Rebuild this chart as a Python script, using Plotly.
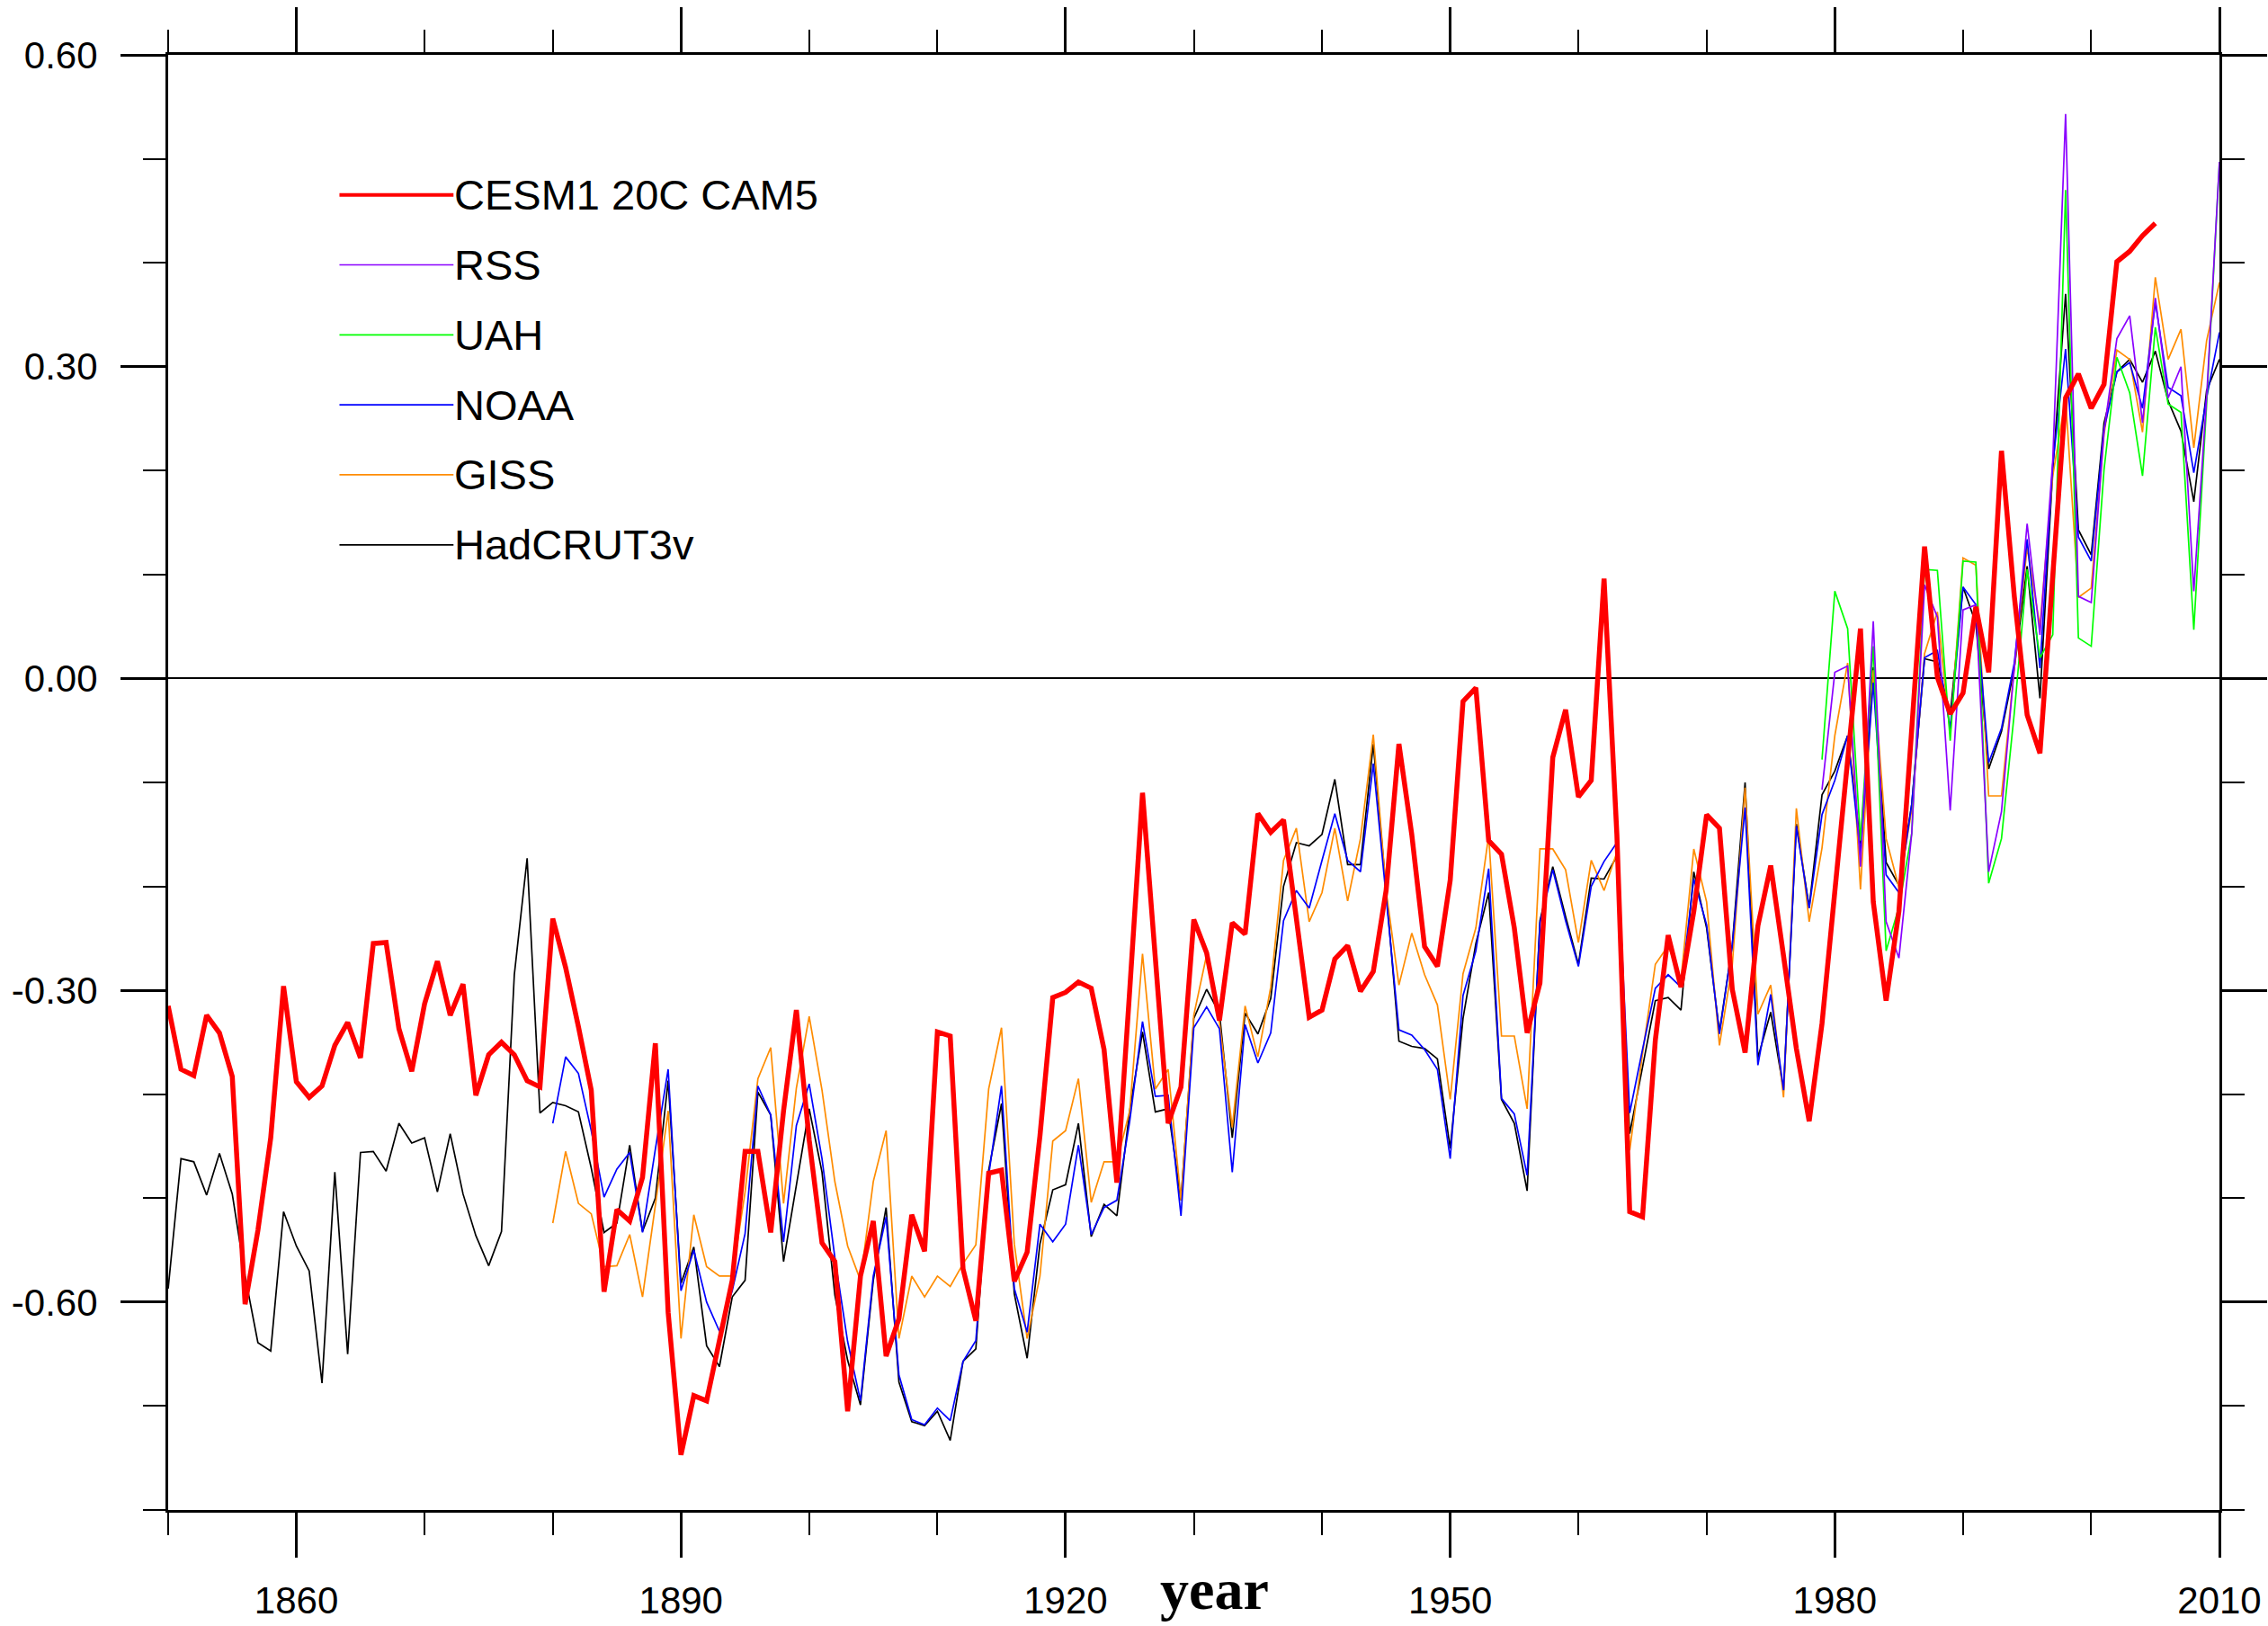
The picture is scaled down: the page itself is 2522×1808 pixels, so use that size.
import plotly.graph_objects as go

# ---------------- data (annual anomalies) ----------------
cesm_start = 1850
cesm = [
    -0.315, -0.376, -0.382, -0.324, -0.341, -0.383, -0.602, -0.531, -0.442, -0.296,
    -0.388, -0.403, -0.392, -0.353, -0.331, -0.365, -0.255, -0.254, -0.337, -0.378,
    -0.313, -0.272, -0.324, -0.294, -0.401, -0.362, -0.350, -0.362, -0.387, -0.393,
    -0.231, -0.278, -0.335, -0.396, -0.590, -0.511, -0.522, -0.480, -0.351, -0.610,
    -0.747, -0.690, -0.695, -0.634, -0.579, -0.455, -0.455, -0.533, -0.416, -0.319,
    -0.444, -0.543, -0.561, -0.705, -0.575, -0.522, -0.652, -0.616, -0.516, -0.551,
    -0.340, -0.344, -0.568, -0.618, -0.476, -0.473, -0.580, -0.552, -0.440, -0.307,
    -0.302, -0.292, -0.298, -0.357, -0.485, -0.300, -0.110, -0.269, -0.428, -0.393,
    -0.232, -0.264, -0.329, -0.235, -0.246, -0.130, -0.148, -0.136, -0.227, -0.326,
    -0.319, -0.270, -0.257, -0.301, -0.282, -0.204, -0.063, -0.150, -0.258, -0.277,
    -0.194, -0.022, -0.009, -0.156, -0.169, -0.240, -0.341, -0.293, -0.076, -0.030,
    -0.114, -0.098, 0.096, -0.150, -0.513, -0.518, -0.348, -0.247, -0.297, -0.224,
    -0.131, -0.144, -0.299, -0.360, -0.238, -0.180, -0.267, -0.356, -0.426, -0.332,
    -0.205, -0.080, 0.048, -0.215, -0.310, -0.224, -0.046, 0.127, 0.001, -0.034,
    -0.014, 0.069, 0.006, 0.219, 0.079, -0.035, -0.072, 0.100, 0.270, 0.293,
    0.260, 0.283, 0.401, 0.411, 0.426, 0.438,
]

hadcrut_start = 1850
hadcrut = [
    -0.587, -0.462, -0.465, -0.497, -0.457, -0.496, -0.575, -0.639, -0.647, -0.513,
    -0.546, -0.570, -0.678, -0.475, -0.650, -0.456, -0.455, -0.474, -0.428, -0.447,
    -0.442, -0.494, -0.438, -0.496, -0.536, -0.565, -0.532, -0.285, -0.173, -0.418,
    -0.408, -0.411, -0.417, -0.471, -0.533, -0.524, -0.449, -0.532, -0.500, -0.387,
    -0.582, -0.547, -0.642, -0.662, -0.595, -0.579, -0.398, -0.420, -0.561, -0.489,
    -0.414, -0.475, -0.593, -0.656, -0.699, -0.579, -0.509, -0.677, -0.715, -0.719,
    -0.705, -0.733, -0.657, -0.645, -0.473, -0.409, -0.592, -0.654, -0.544, -0.492,
    -0.487, -0.428, -0.537, -0.506, -0.517, -0.416, -0.340, -0.417, -0.414, -0.502,
    -0.327, -0.299, -0.322, -0.442, -0.322, -0.342, -0.308, -0.200, -0.158, -0.161,
    -0.150, -0.097, -0.179, -0.179, -0.063, -0.204, -0.349, -0.354, -0.356, -0.366,
    -0.452, -0.327, -0.255, -0.206, -0.405, -0.428, -0.493, -0.233, -0.181, -0.229,
    -0.275, -0.192, -0.193, -0.171, -0.438, -0.374, -0.310, -0.307, -0.319, -0.186,
    -0.240, -0.340, -0.257, -0.100, -0.365, -0.321, -0.396, -0.140, -0.220, -0.112,
    -0.089, -0.055, -0.159, 0.011, -0.177, -0.199, -0.121, 0.019, 0.016, -0.035,
    0.088, 0.053, -0.087, -0.051, 0.010, 0.108, -0.019, 0.201, 0.370, 0.143,
    0.119, 0.246, 0.295, 0.307, 0.285, 0.315, 0.267, 0.238, 0.170, 0.277,
    0.307,
]

noaa_start = 1880
noaa = [
    -0.428, -0.364, -0.380, -0.435, -0.499, -0.472, -0.456, -0.533, -0.453, -0.376,
    -0.589, -0.550, -0.600, -0.628, -0.589, -0.534, -0.392, -0.420, -0.542, -0.430,
    -0.390, -0.462, -0.557, -0.638, -0.695, -0.575, -0.518, -0.670, -0.713, -0.718,
    -0.702, -0.714, -0.657, -0.637, -0.478, -0.392, -0.587, -0.629, -0.525, -0.542,
    -0.525, -0.449, -0.535, -0.509, -0.502, -0.426, -0.330, -0.402, -0.401, -0.517,
    -0.336, -0.316, -0.337, -0.475, -0.333, -0.370, -0.341, -0.233, -0.204, -0.221,
    -0.175, -0.130, -0.175, -0.186, -0.082, -0.212, -0.338, -0.343, -0.357, -0.376,
    -0.462, -0.305, -0.262, -0.183, -0.404, -0.419, -0.478, -0.235, -0.184, -0.233,
    -0.277, -0.200, -0.176, -0.158, -0.418, -0.357, -0.298, -0.285, -0.297, -0.193,
    -0.237, -0.342, -0.257, -0.124, -0.372, -0.304, -0.396, -0.142, -0.221, -0.131,
    -0.098, -0.055, -0.168, -0.004, -0.189, -0.206, -0.121, 0.020, 0.027, -0.048,
    0.088, 0.071, -0.081, -0.048, 0.015, 0.134, 0.010, 0.206, 0.317, 0.136,
    0.113, 0.240, 0.295, 0.304, 0.260, 0.362, 0.280, 0.272, 0.198, 0.270,
    0.333,
]

giss_start = 1880
giss = [
    -0.524, -0.455, -0.505, -0.515, -0.566, -0.565, -0.535, -0.595, -0.507, -0.416,
    -0.635, -0.516, -0.566, -0.575, -0.575, -0.494, -0.385, -0.355, -0.505, -0.394,
    -0.325, -0.396, -0.484, -0.546, -0.579, -0.484, -0.435, -0.635, -0.575, -0.595,
    -0.575, -0.585, -0.563, -0.545, -0.395, -0.336, -0.544, -0.635, -0.575, -0.445,
    -0.435, -0.385, -0.504, -0.465, -0.465, -0.416, -0.265, -0.395, -0.376, -0.502,
    -0.324, -0.266, -0.331, -0.432, -0.315, -0.364, -0.297, -0.175, -0.144, -0.234,
    -0.206, -0.144, -0.214, -0.154, -0.054, -0.204, -0.295, -0.245, -0.285, -0.314,
    -0.405, -0.284, -0.240, -0.151, -0.344, -0.344, -0.414, -0.164, -0.164, -0.184,
    -0.254, -0.175, -0.204, -0.167, -0.454, -0.361, -0.275, -0.257, -0.290, -0.164,
    -0.215, -0.353, -0.276, -0.105, -0.323, -0.295, -0.403, -0.125, -0.234, -0.163,
    -0.055, 0.015, -0.203, 0.008, -0.154, -0.201, -0.126, 0.024, 0.064, -0.053,
    0.116, 0.109, -0.113, -0.113, 0.010, 0.126, 0.050, 0.195, 0.270, 0.078,
    0.087, 0.235, 0.316, 0.307, 0.237, 0.386, 0.307, 0.336, 0.222, 0.325,
    0.381,
]

sat_start = 1979
rss = [
    -0.107, 0.006, 0.012, -0.181, 0.055, -0.234, -0.269, -0.149, 0.090, 0.059,
    -0.127, 0.066, 0.071, -0.186, -0.128, 0.010, 0.149, 0.042, 0.210, 0.543,
    0.079, 0.073, 0.238, 0.327, 0.349, 0.246, 0.366, 0.270, 0.300, 0.084,
    0.270, 0.497,
]
uah = [
    -0.078, 0.084, 0.048, -0.156, 0.031, -0.262, -0.220, -0.149, 0.105, 0.104,
    -0.060, 0.113, 0.112, -0.197, -0.154, -0.033, 0.105, 0.020, 0.042, 0.470,
    0.039, 0.031, 0.201, 0.309, 0.275, 0.195, 0.338, 0.264, 0.256, 0.047,
    0.264, 0.497,
]

y_tickvals = [-0.6, -0.3, 0.0, 0.3, 0.6]
y_ticktext = ["-0.60", "-0.30", "0.00", "0.30", "0.60"]

# name, start year, values, colour, width  (drawing order: last on top)
series = [
    ("HadCRUT3v", hadcrut_start, hadcrut, "#000000", 1.7),
    ("GISS", giss_start, giss, "#FF8C00", 1.7),
    ("NOAA", noaa_start, noaa, "#0000FF", 1.7),
    ("UAH", sat_start, uah, "#00FF00", 1.7),
    ("RSS", sat_start, rss, "#8A00FF", 1.7),
    ("CESM1 20C CAM5", cesm_start, cesm, "#FF0000", 5.5),
]
legend_order = ["CESM1 20C CAM5", "RSS", "UAH", "NOAA", "GISS", "HadCRUT3v"]

fig = go.Figure()
for name, start, vals, col, w in series:
    years = list(range(start, start + len(vals)))
    fig.add_trace(go.Scatter(x=years, y=vals, mode="lines", name=name,
                             line=dict(color=col, width=w), showlegend=False))

# ---------------- custom legend (long line samples) ----------------
style = {n: (c, w) for n, s, v, c, w in series}
leg_x0, leg_x1 = 0.0835, 0.1391
leg_y0, leg_dy = 0.9038, 0.0481
for i, name in enumerate(legend_order):
    col, w = style[name]
    y = leg_y0 - i * leg_dy
    fig.add_shape(type="line", xref="paper", yref="paper", x0=leg_x0, x1=leg_x1,
                  y0=y, y1=y, line=dict(color=col, width=4 if w > 3 else 1.7))
    fig.add_annotation(x=leg_x1, y=y, xref="paper", yref="paper", text=name,
                       showarrow=False, xanchor="left", yanchor="middle",
                       font=dict(family="Liberation Sans", size=47, color="black"),
                       borderpad=0)

fig.add_annotation(x=0.51, y=-0.055, xref="paper", yref="paper", text="<b>year</b>",
                   showarrow=False, xanchor="center", yanchor="middle",
                   font=dict(family="Liberation Serif", size=64, color="black"))

tickfont = dict(family="Liberation Sans", size=42, color="black")
fig.update_xaxes(range=[1850, 2010], tickmode="linear", tick0=1860, dtick=30,
                 ticks="outside", ticklen=50, tickwidth=3, tickcolor="black",
                 showline=True, linewidth=3, linecolor="black", mirror="ticks",
                 showgrid=False, zeroline=False, tickfont=tickfont,
                 ticklabelstandoff=12,
                 minor=dict(tick0=1850, dtick=10, ticks="outside", ticklen=25,
                            tickwidth=1.5, tickcolor="black", showgrid=False))
fig.update_yaxes(range=[-0.8, 0.6], tickmode="array", tickvals=y_tickvals,
                 ticktext=y_ticktext,
                 ticks="outside", ticklen=50, tickwidth=3, tickcolor="black",
                 showline=True, linewidth=3, linecolor="black", mirror="ticks",
                 showgrid=False, zeroline=True, zerolinecolor="black",
                 zerolinewidth=1.5, tickfont=tickfont, ticklabelstandoff=17,
                 minor=dict(tick0=0, dtick=0.1, ticks="outside", ticklen=25,
                            tickwidth=1.5, tickcolor="black", showgrid=False))

fig.update_layout(width=2522, height=1808,
                  margin=dict(l=187, r=54, t=61, b=129, pad=0, autoexpand=False),
                  plot_bgcolor="white", paper_bgcolor="white", showlegend=False)

fig.write_html("out.html", config={"displayModeBar": False},
               post_script="document.body.style.margin='0';document.body.style.overflow='hidden';")
